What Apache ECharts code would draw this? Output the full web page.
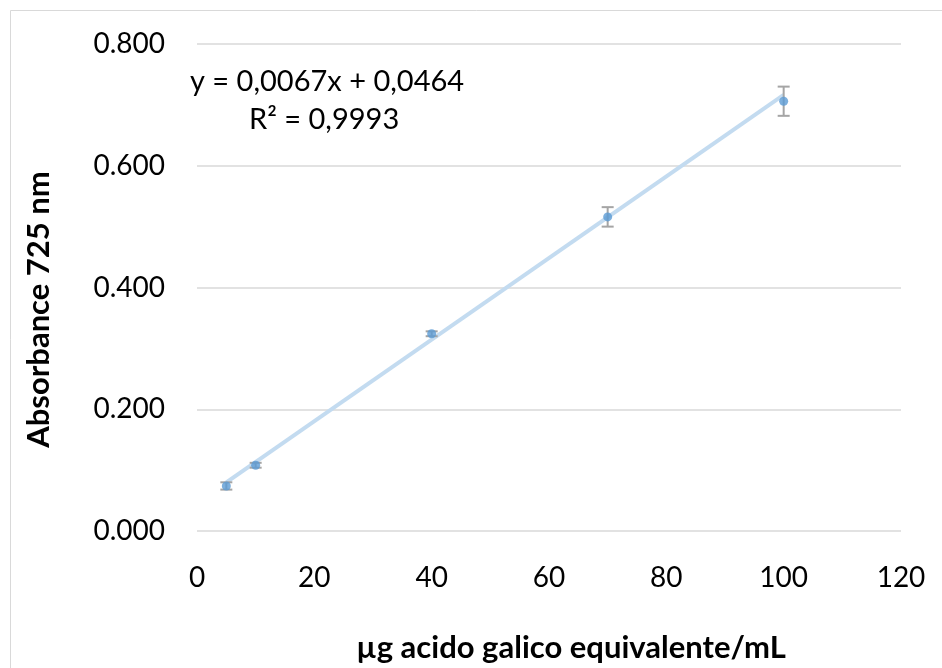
<!DOCTYPE html>
<html>
<head>
<meta charset="utf-8">
<script src="https://cdn.jsdelivr.net/npm/echarts@6/dist/echarts.min.js"></script>
<style>html,body{margin:0;padding:0;background:#fff}#c{width:942px;height:668px}</style>
</head>
<body>
<div id="c"></div>
<script>
const concentrations = [5, 10, 40, 70, 100];
const absorbance = [0.074, 0.108, 0.324, 0.516, 0.706];
const errors = [0.006, 0.004, 0.004, 0.016, 0.024];
const trendSlope = 0.0067;
const trendIntercept = 0.0464;
const yTicks = [0, 0.2, 0.4, 0.6, 0.8];
const xTicks = [0, 20, 40, 60, 80, 100, 120];
const equationText = 'y = 0,0067x + 0,0464';
const r2Text = 'R² = 0,9993';

const FONT = 'Lato, "Open Sans", sans-serif';
const chart = echarts.init(document.getElementById('c'), null, {renderer: 'canvas'});

const pts = concentrations.map((x, i) => [x, absorbance[i]]);
const errData = concentrations.map((x, i) => [x, absorbance[i] - errors[i], absorbance[i] + errors[i]]);
const xMinT = concentrations[0], xMaxT = concentrations[concentrations.length - 1];
const trend = [[xMinT, trendSlope * xMinT + trendIntercept], [xMaxT, trendSlope * xMaxT + trendIntercept]];

chart.setOption({
  animation: false,
  backgroundColor: '#fff',
  graphic: [{
    type: 'rect', shape: {x: 10.5, y: 10.5, width: 960, height: 700},
    style: {fill: 'none', stroke: '#d9d9d9', lineWidth: 1}, silent: true
  }, {
    type: 'text', left: 190, top: 67,
    style: {text: equationText, font: '29px ' + FONT, fill: '#000'}
  }, {
    type: 'text', left: 249, top: 105,
    style: {text: r2Text, font: '29px ' + FONT, fill: '#000'}
  }],
  grid: {left: 197, right: 41, top: 44, bottom: 137},
  xAxis: {
    type: 'value', min: 0, max: 120, interval: 20,
    axisLine: {show: false}, axisTick: {show: false},
    splitLine: {show: false},
    axisLabel: {fontSize: 28, fontFamily: FONT, color: '#000', margin: 33},
    name: 'µg acido galico equivalente/mL', nameLocation: 'middle', nameGap: 101,
    nameTextStyle: {fontSize: 31, fontWeight: 'bold', fontFamily: FONT, color: '#000', padding: [0, 0, 0, 44]}
  },
  yAxis: {
    type: 'value', min: 0, max: 0.8, interval: 0.2,
    axisLine: {show: false}, axisTick: {show: false},
    splitLine: {show: true, lineStyle: {color: '#d9d9d9', width: 1.5}},
    axisLabel: {fontSize: 28, fontFamily: FONT, color: '#000', margin: 32, formatter: v => v.toFixed(3)},
    name: 'Absorbance 725 nm', nameLocation: 'middle', nameGap: 143,
    nameTextStyle: {fontSize: 31, fontWeight: 'bold', fontFamily: FONT, color: '#000', padding: [0, 44, 0, 0]}
  },
  series: [{
    type: 'line', data: trend, symbol: 'none',
    lineStyle: {color: '#c3dbf0', width: 4}, z: 1, silent: true
  }, {
    type: 'custom', z: 2,
    renderItem: function (params, api) {
      const x = api.value(0);
      const lo = api.coord([x, api.value(1)]);
      const hi = api.coord([x, api.value(2)]);
      const cw = 6;
      const st = {stroke: '#a5a5a5', lineWidth: 2, fill: 'none'};
      return {type: 'group', children: [
        {type: 'line', shape: {x1: lo[0], y1: lo[1], x2: hi[0], y2: hi[1]}, style: st},
        {type: 'line', shape: {x1: lo[0] - cw, y1: lo[1], x2: lo[0] + cw, y2: lo[1]}, style: st},
        {type: 'line', shape: {x1: hi[0] - cw, y1: hi[1], x2: hi[0] + cw, y2: hi[1]}, style: st}
      ]};
    },
    data: errData
  }, {
    type: 'scatter', data: pts, symbol: 'circle', symbolSize: 9, z: 3,
    itemStyle: {color: '#5b9bd5'}
  }]
});
</script>
</body>
</html>
